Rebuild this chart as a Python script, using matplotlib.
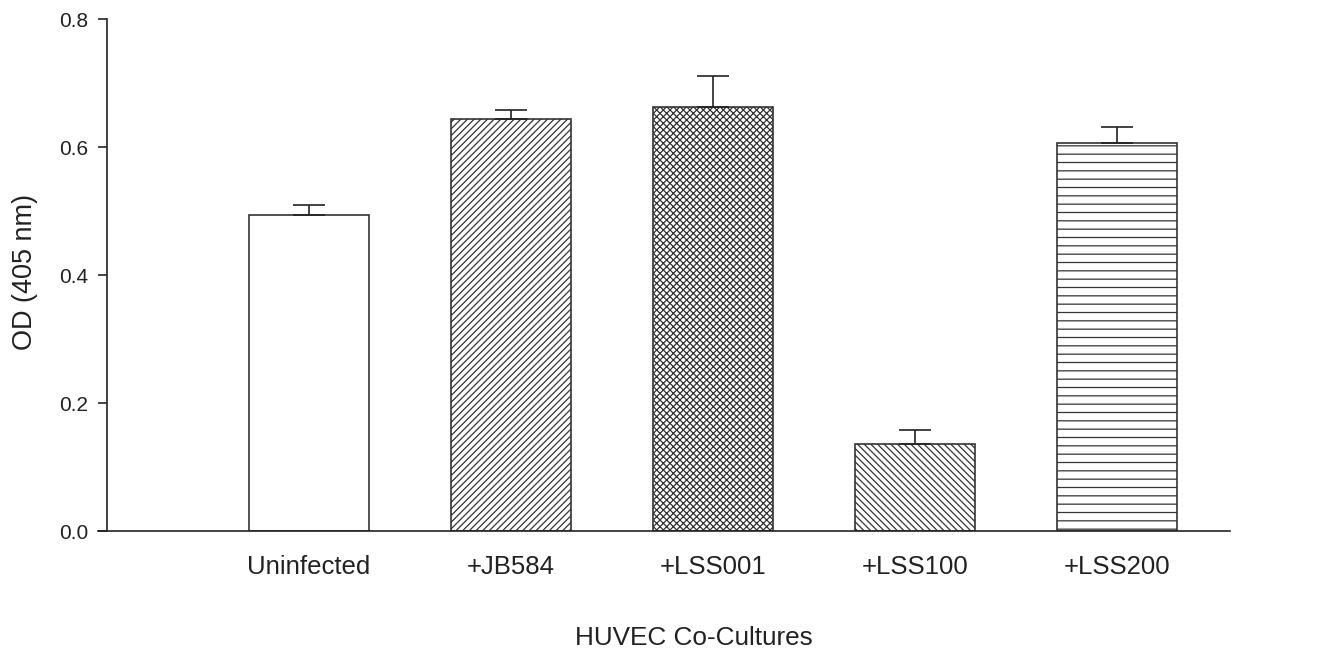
import matplotlib
matplotlib.use("Agg")
import matplotlib.pyplot as plt

# values
groups = ["Uninfected", "+JB584", "+LSS001", "+LSS100", "+LSS200"]
od_mean = [0.493, 0.643, 0.663, 0.136, 0.607]
od_err = [0.016, 0.015, 0.048, 0.022, 0.025]
hatches = ["", "/////", "xxxxx", "\\\\\\\\\\", "--"]

plt.rcParams['font.family'] = ['Liberation Sans', 'DejaVu Sans']
plt.rcParams['hatch.linewidth'] = 0.9
plt.rcParams['hatch.color'] = '#444444'

fig = plt.figure(figsize=(13.28, 6.51), dpi=100)
ax = fig.add_axes([0.0738, 0.1843, 0.8524, 0.7865])

x = list(range(len(groups)))
bars = ax.bar(x, od_mean, width=0.595, color='white', edgecolor='#333333', linewidth=1.2)
for b, h in zip(bars, hatches):
    b.set_hatch(h)

# only the upper half of the error bar is drawn
ax.errorbar(x, od_mean, yerr=[[0] * len(od_err), od_err], fmt='none',
            ecolor='#222222', elinewidth=1.2, capsize=11.5, capthick=1.2)

ax.set_xlim(-1.045, 4.56)
ax.set_ylim(0, 0.8)
ax.set_yticks([0.0, 0.2, 0.4, 0.6, 0.8])
ax.set_yticklabels(["0.0", "0.2", "0.4", "0.6", "0.8"])
ax.set_xticks(x)
ax.set_xticklabels(groups)

for s in ['top', 'right']:
    ax.spines[s].set_visible(False)
ax.spines['left'].set_position(('axes', 9 / 1132))
ax.spines['left'].set_color('#222222')
ax.spines['bottom'].set_color('#222222')
ax.spines['left'].set_linewidth(1.2)
ax.spines['bottom'].set_linewidth(1.2)

ax.tick_params(axis='y', direction='out', length=6.5, width=1.2, pad=7,
               labelsize=15, colors='#222222')
ax.tick_params(axis='x', length=0, pad=17, labelsize=18.5, colors='#222222')

ax.set_ylabel("OD (405 nm)", fontsize=19.5, color='#222222')
ax.yaxis.set_label_coords(-0.053, 0.506)
ax.set_xlabel("HUVEC Co-Cultures", fontsize=18.8, color='#222222')
ax.xaxis.set_label_coords(0.526, -0.185)

fig.savefig("out.png", dpi=100)
